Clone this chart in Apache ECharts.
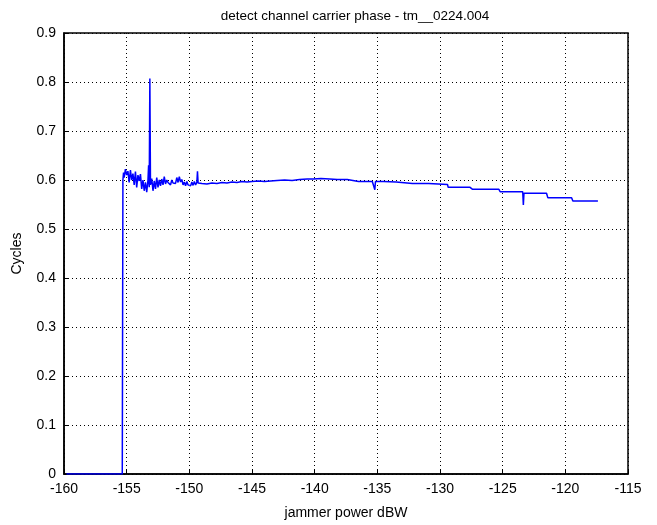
<!DOCTYPE html>
<html>
<head>
<meta charset="utf-8">
<script src="https://cdn.jsdelivr.net/npm/echarts@6/dist/echarts.min.js"></script>
<style>
  html, body { margin: 0; padding: 0; background: #fff; }
  #main { width: 657px; height: 525px; }
</style>
</head>
<body>
<div id="main"></div>
<script>
var myChart = echarts.init(document.getElementById('main'));

// jammer power (dBW)
var power = [
    -159.8, -155.35, -155.3, -155.25, -155.2, -155.1, -155.0, -154.9, -154.8, -154.7,
    -154.6, -154.5, -154.4, -154.3, -154.2, -154.1, -154.0, -153.9, -153.8, -153.7,
    -153.6, -153.5, -153.4, -153.3, -153.25, -153.2, -153.15, -153.1, -153.0, -152.9,
    -152.8, -152.7, -152.6, -152.5, -152.4, -152.3, -152.2, -152.1, -152.0, -151.9,
    -151.8, -151.7, -151.6, -151.5, -151.4, -151.3, -151.2, -151.1, -151.0, -150.9,
    -150.8, -150.7, -150.6, -150.5, -150.4, -150.3, -150.2, -150.1, -150.0, -149.9,
    -149.8, -149.7, -149.6, -149.5, -149.4, -149.35, -149.3, -149.0, -148.6, -148.2,
    -147.8, -147.4, -147.0, -146.6, -146.2, -145.8, -145.4, -145.0, -144.5, -144.0,
    -143.5, -143.0, -142.4, -141.8, -141.2, -140.6, -140.1, -139.5, -138.8, -138.2,
    -137.4, -137.3, -136.5, -135.4, -135.25, -135.2, -135.15, -134.5, -133.5, -133.4,
    -132.2, -130.9, -130.8, -129.4, -129.35, -127.6, -127.4, -125.3, -125.2, -123.4,
    -123.35, -123.3, -123.25, -121.5, -121.4, -119.5, -119.4, -117.4
];

// carrier phase (cycles)
var phase = [
    0, 0, 0.600, 0.615, 0.605, 0.622, 0.610, 0.618, 0.595, 0.620,
    0.600, 0.613, 0.590, 0.617, 0.585, 0.610, 0.598, 0.612, 0.582, 0.600,
    0.578, 0.595, 0.575, 0.600, 0.630, 0.585, 0.807, 0.590, 0.603, 0.578,
    0.598, 0.582, 0.605, 0.585, 0.600, 0.588, 0.602, 0.590, 0.607, 0.592,
    0.600, 0.595, 0.598, 0.590, 0.600, 0.594, 0.598, 0.593, 0.605, 0.595,
    0.607, 0.596, 0.601, 0.590, 0.596, 0.588, 0.597, 0.590, 0.594, 0.588,
    0.596, 0.589, 0.597, 0.590, 0.595, 0.618, 0.594, 0.593, 0.592, 0.594,
    0.593, 0.595, 0.594, 0.596, 0.595, 0.597, 0.596, 0.597, 0.598, 0.597,
    0.598, 0.599, 0.600, 0.599, 0.601, 0.602, 0.602, 0.603, 0.602, 0.601,
    0.601, 0.597, 0.597, 0.597, 0.597, 0.580, 0.597, 0.597, 0.596, 0.593,
    0.593, 0.593, 0.591, 0.591, 0.585, 0.585, 0.581, 0.581, 0.576, 0.576,
    0.549, 0.573, 0.573, 0.573, 0.564, 0.564, 0.557, 0.557
];

var xTicks = { min: -160, max: -115, interval: 5 };
var yTicks = { min: 0, max: 0.9, interval: 0.1 };

var points = [];
for (var i = 0; i < power.length; i++) {
    points.push([power[i], phase[i]]);
}

var font = 'Liberation Sans, Arial, sans-serif';

option = {
    animation: false,
    backgroundColor: '#fff',
    title: {
        text: 'detect channel carrier phase - tm__0224.004',
        left: 350,
        textAlign: 'center',
        top: 4,
        textStyle: {
            fontFamily: font,
            fontSize: 13.5,
            fontWeight: 'normal',
            color: '#000'
        }
    },
    grid: {
        left: 64,
        right: 29,
        top: 33,
        bottom: 49,
        show: true,
        borderColor: '#000',
        borderWidth: 1.5,
        backgroundColor: '#fff'
    },
    xAxis: {
        type: 'value',
        min: xTicks.min,
        max: xTicks.max,
        interval: xTicks.interval,
        name: 'jammer power dBW',
        nameLocation: 'middle',
        nameGap: 32,
        nameTextStyle: { fontFamily: font, fontSize: 14, color: '#000' },
        axisLine: { show: true, onZero: false, lineStyle: { color: '#000', width: 1.5 } },
        axisTick: { show: true, inside: true, length: 5, lineStyle: { color: '#000' } },
        axisLabel: { fontFamily: font, fontSize: 14, color: '#000', margin: 8 },
        splitLine: { show: true, lineStyle: { color: '#000', type: [1, 3], width: 1 } }
    },
    yAxis: {
        type: 'value',
        min: yTicks.min,
        max: yTicks.max,
        interval: yTicks.interval,
        name: 'Cycles',
        nameLocation: 'middle',
        nameGap: 40,
        nameTextStyle: { fontFamily: font, fontSize: 14, color: '#000' },
        axisLine: { show: true, lineStyle: { color: '#000', width: 1.5 } },
        axisTick: { show: true, inside: true, length: 5, lineStyle: { color: '#000' } },
        axisLabel: { fontFamily: font, fontSize: 14, color: '#000', margin: 8 },
        splitLine: { show: true, lineStyle: { color: '#000', type: [1, 3], width: 1 } }
    },
    series: [{
        type: 'line',
        data: points,
        showSymbol: false,
        symbol: 'none',
        lineStyle: { color: '#0000ff', width: 1.5 },
        itemStyle: { color: '#0000ff' }
    }]
};

myChart.setOption(option);
</script>
</body>
</html>
